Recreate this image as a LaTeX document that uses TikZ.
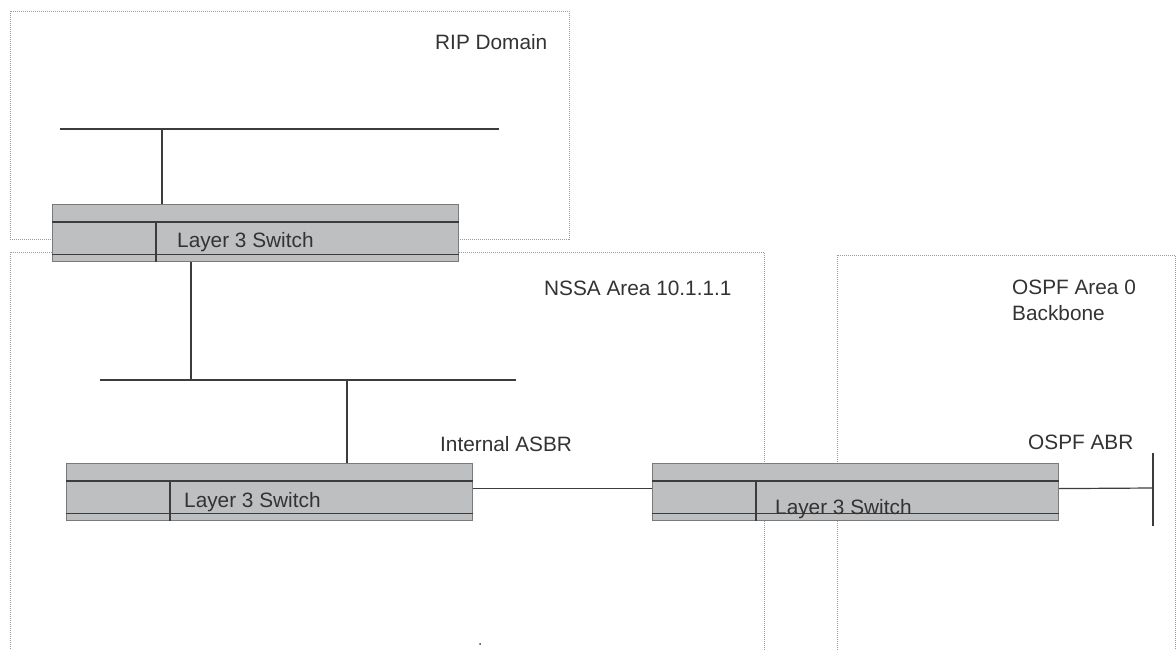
\documentclass[tikz,border=0pt]{standalone}
\usepackage{fontspec}
\setmainfont{Liberation Sans}
\usetikzlibrary{calc}
\definecolor{txt}{HTML}{333333}
\definecolor{swfill}{HTML}{BEBFC1}
\definecolor{swedge}{HTML}{7A7A7A}
\definecolor{wirec}{HTML}{3C3C3C}
\definecolor{dotc}{HTML}{9A9A9A}
\begin{document}
\begin{tikzpicture}[x=1pt,y=-1pt,
  lbl/.style={inner sep=0pt, anchor=base west, text=txt, font=\fontsize{20.8}{25}\selectfont},
  switchbox/.style={draw=swedge, fill=swfill, line width=1.2pt, minimum width=406pt, minimum height=57pt, inner sep=0pt, anchor=north west},
  innerline/.style={draw=wirec, line width=1.1pt},
  wire/.style={draw=wirec, line width=1.2pt},
  zone/.style={draw=dotc, line width=0.9pt, dash pattern=on 1pt off 1pt}]
\useasboundingbox (0,0) rectangle (1176,650);
\clip (0,0) rectangle (1176,650);
\fill[white] (0,0) rectangle (1176,650);
% zones
\draw[zone] (10,11) rectangle (569,239);
\draw[zone] (10,252) rectangle (764,680);
\draw[zone] (837,255) rectangle (1175,680);
% zone labels
\node[lbl] (rip) at (435,50) {RIP Domain};
\node[lbl] (nssa) at (544,295) {NSSA Area 10.1.1.1};
\node[lbl] (ospf) at (1012,294) {OSPF Area 0};
\node[lbl] (bb) at (1012,320) {Backbone};
\node[lbl] (asbr) at (440,451) {Internal ASBR};
\node[lbl] (abr) at (1028,449) {OSPF ABR};
% switches
\node[switchbox] (sw1) at (52,204) {};
\node[switchbox] (sw2) at (66,463) {};
\node[switchbox] (sw3) at (652,463) {};
\foreach \s in {sw1,sw2,sw3}{
  \draw[innerline] ($(\s.north west)+(0,18)$) -- ($(\s.north east)+(0,18)$);
  \draw[innerline] ($(\s.south west)+(0,-8)$) -- ($(\s.south east)+(0,-8)$);
  \draw[innerline] ($(\s.north west)+(104,18)$) -- ($(\s.south west)+(104,0)$);
}
\node[lbl] (sw1t) at (177,247) {Layer 3 Switch};
\node[lbl] (sw2t) at (184,507) {Layer 3 Switch};
\node[lbl] (sw3t) at (775,514) {Layer 3 Switch};
% buses and links
\coordinate (b1l) at (60,129);
\coordinate (b1r) at (499,129);
\coordinate (t1) at (162,129);
\draw[wire] (b1l) -- (b1r);
\draw[wire] (t1) -- (t1 |- sw1.north);
\coordinate (b2l) at (100,380);
\coordinate (b2r) at (516,380);
\coordinate (t2) at (191,380);
\coordinate (t3) at (347,380);
\draw[wire] (b2l) -- (b2r);
\draw[wire] (t2 |- sw1.south) -- (t2);
\draw[wire] (t3) -- (t3 |- sw2.north);
\draw[wire] ([yshift=3.5pt]sw2.east) -- ([yshift=3.5pt]sw3.west);
\coordinate (bar) at (1153,488);
\coordinate (bartop) at (1153,453);
\coordinate (barbot) at (1153,526);
\draw[wire] ([yshift=3.5pt]sw3.east) -- (bar);
\draw[wire] (bartop) -- (barbot);
\fill[wirec] (480,644) circle (1pt);
\end{tikzpicture}
\end{document}
